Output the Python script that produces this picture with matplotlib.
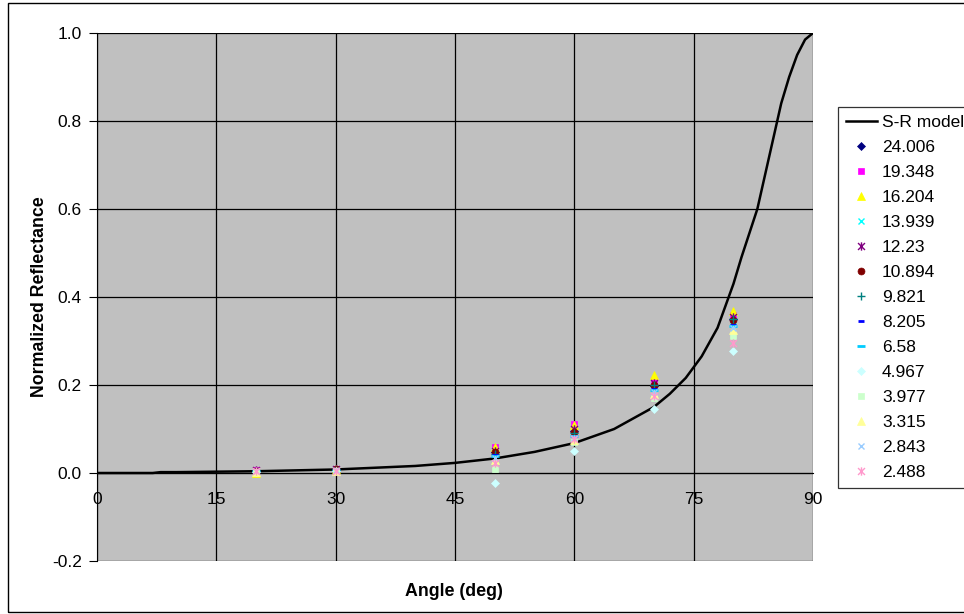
import numpy as np
import matplotlib
matplotlib.use('Agg')
import matplotlib.pyplot as plt
from matplotlib.path import Path
from matplotlib.patches import Rectangle

plt.rcParams['font.family'] = ['Liberation Sans', 'DejaVu Sans']

# S-R model curve (angle in degrees, normalized reflectance)
model_angle = [0, 5, 7, 8, 10, 15, 20, 25, 30, 35, 40, 45, 50, 55, 60, 65,
               70, 72, 74, 76, 78, 80, 81, 82, 83, 84, 85, 86, 87, 88, 89, 90]
model_refl = [0.0, 0.0, 0.0, 0.002, 0.002, 0.003, 0.004, 0.006, 0.008, 0.012,
              0.016, 0.023, 0.033, 0.048, 0.068, 0.1, 0.15, 0.18, 0.216,
              0.265, 0.33, 0.43, 0.49, 0.545, 0.6, 0.68, 0.76, 0.84, 0.9,
              0.95, 0.985, 1.0]

# measured points
angles = [20, 30, 50, 60, 70, 80]
series_labels = ['24.006', '19.348', '16.204', '13.939', '12.23', '10.894',
                 '9.821', '8.205', '6.58', '4.967', '3.977', '3.315',
                 '2.843', '2.488']
s_24006 = [0.005, 0.007, 0.048, 0.095, 0.198, 0.350]
s_19348 = [0.006, 0.009, 0.060, 0.112, 0.212, 0.358]
s_16204 = [0.001, 0.008, 0.058, 0.108, 0.222, 0.368]
s_13939 = [0.005, 0.007, 0.045, 0.090, 0.195, 0.345]
s_12230 = [0.006, 0.009, 0.050, 0.100, 0.204, 0.355]
s_10894 = [0.005, 0.008, 0.047, 0.093, 0.200, 0.348]
s_9821 = [0.005, 0.007, 0.043, 0.090, 0.200, 0.350]
s_8205 = [0.004, 0.006, 0.040, 0.085, 0.190, 0.337]
s_6580 = [0.004, 0.006, 0.038, 0.083, 0.188, 0.334]
s_4967 = [0.003, 0.004, -0.022, 0.049, 0.146, 0.277]
s_3977 = [0.003, 0.005, 0.008, 0.070, 0.170, 0.311]
s_3315 = [0.003, 0.005, 0.030, 0.075, 0.180, 0.325]
s_2843 = [0.004, 0.006, 0.033, 0.080, 0.185, 0.330]
s_2488 = [0.004, 0.005, 0.022, 0.078, 0.175, 0.296]
series_values = [s_24006, s_19348, s_16204, s_13939, s_12230, s_10894,
                 s_9821, s_8205, s_6580, s_4967, s_3977, s_3315, s_2843,
                 s_2488]

# Excel-style asterisk: an x with a vertical bar
ASTERISK = Path([(-1, -1), (1, 1), (-1, 1), (1, -1), (0, -1.2), (0, 1.2)],
                [Path.MOVETO, Path.LINETO, Path.MOVETO, Path.LINETO,
                 Path.MOVETO, Path.LINETO])

styles = [
    dict(marker='D', color='#000080', ms=4.5),
    dict(marker='s', color='#FF00FF', ms=5),
    dict(marker='^', color='#FFFF00', ms=5.5),
    dict(marker='x', color='#00FFFF', ms=5, mew=1),
    dict(marker=ASTERISK, color='#800080', ms=6, mew=1),
    dict(marker='o', color='#800000', ms=5),
    dict(marker='+', color='#008080', ms=6, mew=1),
    dict(marker='_', color='#0000FF', ms=4, mew=2),
    dict(marker='_', color='#00CCFF', ms=6, mew=2),
    dict(marker='D', color='#CCFFFF', ms=4.5),
    dict(marker='s', color='#CCFFCC', ms=5),
    dict(marker='^', color='#FFFF99', ms=5.5),
    dict(marker='x', color='#99CCFF', ms=5, mew=1),
    dict(marker=ASTERISK, color='#FF99CC', ms=6, mew=1),
]

FS = 12.5

fig = plt.figure(figsize=(9.64, 6.14), dpi=100)
ax = fig.add_axes([0.1006, 0.0863, 0.7428, 0.86])
ax.set_facecolor('#C0C0C0')

ax.plot(model_angle, model_refl, color='black', lw=1.8, label='S-R model',
        zorder=3)
for lab, vals, st in zip(series_labels, series_values, styles):
    ax.plot(angles, vals, ls='none', marker=st['marker'], color=st['color'],
            markersize=st['ms'], markeredgewidth=st.get('mew', 0.5),
            label=lab, zorder=4)

ax.set_xlim(0, 90)
ax.set_ylim(-0.2, 1.0)
ax.set_xticks(np.arange(0, 91, 15))
ax.set_yticks(np.arange(-0.2, 1.01, 0.2))
ax.set_yticklabels([f'{v:.1f}' for v in np.arange(-0.2, 1.01, 0.2)])
ax.grid(True, color='black', lw=0.9)
ax.set_axisbelow(True)

for side in ('top', 'right'):
    ax.spines[side].set_visible(False)
ax.spines['left'].set_color('black')
ax.spines['bottom'].set_position(('data', 0))
ax.spines['bottom'].set_color('black')
ax.tick_params(axis='x', length=0, pad=14, labelsize=FS)
ax.tick_params(axis='y', length=6, width=0.8, direction='out', pad=5,
               labelsize=FS)

ax.set_ylabel('Normalized Reflectance', fontsize=12.8, fontweight='bold',
              labelpad=3)
fig.text(0.4705, 0.037, 'Angle (deg)', fontsize=12.8, fontweight='bold',
         ha='center', va='center')

leg = fig.legend(loc='upper left', bbox_to_anchor=(0.869, 0.826),
                 borderaxespad=0, frameon=True, fancybox=False,
                 edgecolor='black', fontsize=FS, labelspacing=0.57,
                 handlelength=1.8, handletextpad=0.3, borderpad=0.45)
leg.get_frame().set_linewidth(0.9)

# outer chart border
fig.patches.append(Rectangle((8 / 964, 2 / 614), 960 / 964, 609 / 614,
                             transform=fig.transFigure, fill=False,
                             edgecolor='black', lw=1.0))

fig.savefig('out.png', dpi=100, facecolor='white')
